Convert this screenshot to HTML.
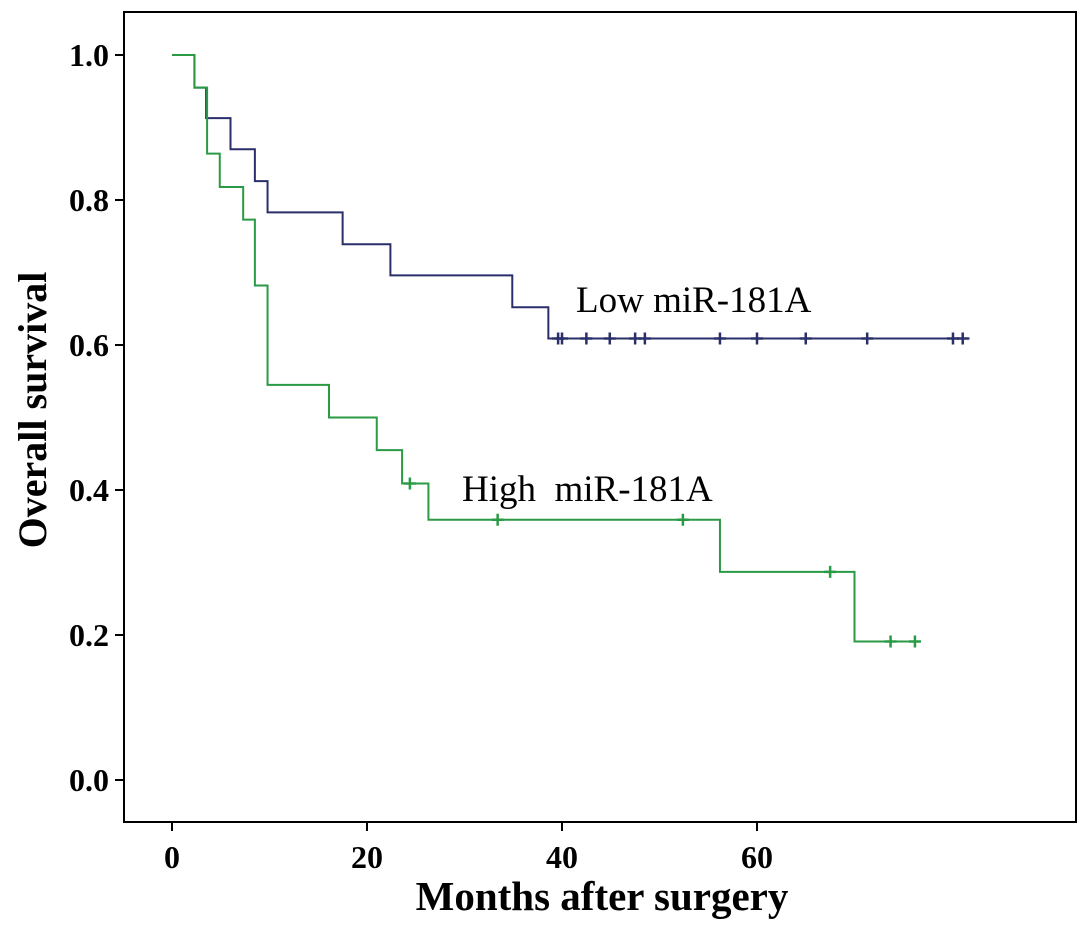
<!DOCTYPE html>
<html><head><meta charset="utf-8"><style>
body{margin:0;background:#fff;}
svg text{font-family:"Liberation Serif",serif;}
</style></head><body>
<svg id="c" width="1087" height="920"></svg>
<script>
const xTicks=[0,20,40,60];
const yTicks=[0.0,0.2,0.4,0.6,0.8,1.0];
const lowTimes=[2.3,3.5,6.0,8.5,9.8,17.5,22.4,34.9,38.6];
const lowVals=[0.955,0.913,0.870,0.826,0.783,0.739,0.696,0.652,0.609];
const lowEnd=81.8;
const lowCensor=[39.6,40.0,42.5,44.9,47.5,48.5,56.2,60.0,65.0,71.3,80.1,81.1];
const highTimes=[2.3,3.6,4.9,7.3,8.5,9.8,16.1,21.0,23.6,26.3,56.2,70.0];
const highVals=[0.955,0.864,0.818,0.773,0.682,0.545,0.5,0.455,0.409,0.359,0.287,0.191];
const highEnd=76.5;
const highCensor=[24.4,33.4,52.4,67.5,73.7,76.2];

const NS="http://www.w3.org/2000/svg";
const svg=document.getElementById('c');
const X=t=>172+t*9.75;
const Y=v=>780-v*725;
function mk(tag,a,p){const e=document.createElementNS(NS,tag);for(const k in a)e.setAttribute(k,a[k]);(p||svg).appendChild(e);return e;}
const frame=mk('rect',{x:124,y:12,width:952,height:810,fill:'none',stroke:'#000','stroke-width':2});


xTicks.forEach(t=>{
  const l=mk('line',{x1:X(t),x2:X(t),y1:822,y2:831,stroke:'#000','stroke-width':2});
  
  
  const tx=mk('text',{x:X(t),y:868,'text-anchor':'middle','font-size':32,'font-weight':'bold'});
  tx.textContent=t;
  
  
});
yTicks.forEach(v=>{
  const l=mk('line',{x1:115,x2:124,y1:Y(v),y2:Y(v),stroke:'#000','stroke-width':2});
  
  
  const tx=mk('text',{x:109,y:Y(v)+11,'text-anchor':'end','font-size':32,'font-weight':'bold'});
  tx.textContent=v.toFixed(1);
  
  
});
const xt=mk('text',{x:602,y:910,'text-anchor':'middle','font-size':41,'font-weight':'bold'});
xt.textContent='Months after surgery';


const yt=mk('text',{x:0,y:0,transform:'translate(46,410) rotate(-90)','text-anchor':'middle','font-size':40,'font-weight':'bold'});
yt.textContent='Overall survival';


function curve(times,vals,end,cens,color,name){
  let d='M'+X(0)+','+Y(1);
  times.forEach((t,i)=>{d+=' H'+X(t)+' V'+Y(vals[i]);});
  d+=' H'+X(end);
  const p=mk('path',{d:d,fill:'none',stroke:color,'stroke-width':2});
  
  
  cens.forEach(t=>{
    let val=1;times.forEach((tt,i)=>{if(tt<=t)val=vals[i];});
    const c=mk('path',{d:'M'+(X(t)-6)+','+Y(val)+' h12 M'+X(t)+','+(Y(val)-6)+' v12',stroke:color,'stroke-width':2.5});
    
    
  });
}
curve(lowTimes,lowVals,lowEnd,lowCensor,'#2a2f6a','low-mir181a');
curve(highTimes,highVals,highEnd,highCensor,'#2a9a45','high-mir181a');
const l1=mk('text',{x:576,y:312,'font-size':37});
l1.textContent='Low miR-181A';


const l2=mk('text',{x:462,y:501,'font-size':37});
l2.textContent='High\u00a0 miR-181A';


</script>
</body></html>
